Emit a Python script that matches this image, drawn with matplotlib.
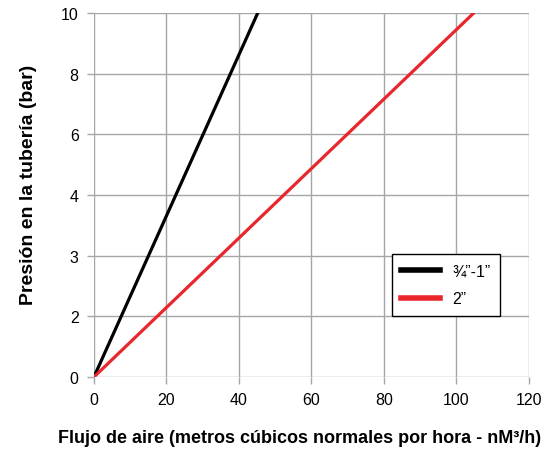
import numpy as np
import matplotlib.pyplot as plt

plt.rcParams['font.family'] = ['Liberation Sans', 'DejaVu Sans']

# y axis labels are evenly spaced (not linear in value)
y_labels = ['0', '2', '3', '4', '6', '8', '10']
x_ticks = [0, 20, 40, 60, 80, 100, 120]

# lines: flow at start and at top of chart, y in tick positions
black_x = [0, 45.2]
black_y = [0, 6]
red_x = [0, 104.8]
red_y = [0, 6]

fig = plt.figure(figsize=(5.59, 4.52), dpi=100)
ax = fig.add_axes([0.168, 0.1637, 0.778, 0.8053])

ax.plot(black_x, black_y, color='black', lw=2.3, label='¾”-1”', zorder=3)
ax.plot(red_x, red_y, color='#e8262c', lw=2.3, label='2”', zorder=3)

ax.set_xlim(0, 120)
ax.set_ylim(0, 6)
ax.set_xticks(x_ticks)
ax.set_yticks(range(len(y_labels)))
ax.set_yticklabels(y_labels)
ax.grid(True, color='#a6a6a6', lw=1)
ax.set_axisbelow(True)
for s in ax.spines.values():
    s.set_visible(False)
ax.tick_params(colors='#a6a6a6', labelcolor='black', length=5, width=1, labelsize=11.5, pad=6)

ax.set_xlabel('Flujo de aire (metros cúbicos normales por hora - nM³/h)', fontsize=13, fontweight='bold')
ax.set_ylabel('Presión en la tubería (bar)', fontsize=14, fontweight='bold')
ax.xaxis.set_label_coords(0.474, -0.142)
ax.yaxis.set_label_coords(-0.13, 0.53)

leg = ax.legend(loc='upper left', bbox_to_anchor=(0.685, 0.338), fontsize=11.5, frameon=True,
                fancybox=False, edgecolor='black', framealpha=1, handlelength=2.4,
                borderpad=0.6, labelspacing=0.8, borderaxespad=0)
leg.get_frame().set_linewidth(1)
for l in leg.get_lines():
    l.set_linewidth(4)

fig.savefig('out.png', dpi=100)
